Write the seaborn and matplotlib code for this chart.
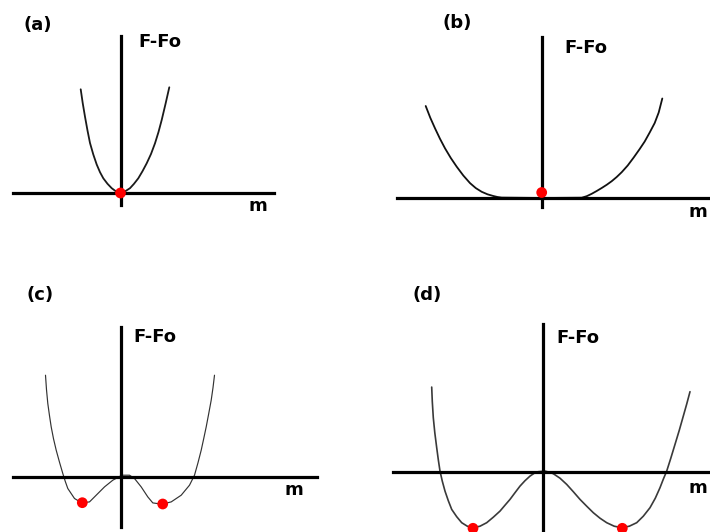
import matplotlib
matplotlib.use("Agg")
import matplotlib.pyplot as plt
import seaborn as sns

sns.set_style("white")
plt.rcParams["font.family"] = ["DejaVu Sans"]

# Free-energy curves F-Fo versus order parameter m (arbitrary units)
a_m = [-39.8, -37.8, -35.5, -33.0, -30.5, -27.2, -23.8, -20.5, -17.2, -13.0, -8.8, -4.5, 0.0,
       4.5, 9.5, 13.5, 17.8, 22.0, 26.2, 30.5, 34.5, 38.0, 41.2, 45.0, 48.8]
a_f = [103.7, 90.0, 76.3, 62.5, 50.0, 38.5, 28.5, 20.8, 14.7, 9.2, 4.8, 1.6, 0.3,
       1.6, 4.8, 9.2, 14.7, 21.8, 29.7, 39.0, 49.7, 61.0, 73.0, 89.0, 105.7]
a_min_m = [0.0]
a_min_f = [0.0]

b_m = [-116.0, -111.4, -106.7, -101.7, -96.7, -90.9, -85.0, -78.4, -71.7, -65.9, -60.0, -54.2,
       -48.4, -44.2, -40.0, 0.0,
       40.0, 45.0, 50.0, 55.0, 60.0, 65.0, 70.0, 75.0, 80.0, 86.0, 92.0, 98.0, 103.0, 108.0,
       113.0, 117.0, 120.6]
b_f = [92.0, 80.2, 69.7, 59.2, 49.7, 40.0, 31.3, 22.5, 14.9, 9.9, 6.2, 3.7,
       2.0, 1.0, 0.4, 0.0,
       0.3, 1.8, 4.2, 7.0, 10.0, 13.2, 16.8, 21.0, 25.8, 32.5, 40.5, 49.0, 56.5, 65.5,
       75.0, 85.5, 99.5]
b_min_m = [0.0]
b_min_f = [5.5]

c_m = [-75.5, -74.5, -73.2, -71.5, -69.8, -67.5, -64.8, -61.5, -58.2, -55.8, -53.2, -46.5,
       -39.2, -31.5, -24.8, -16.5, -8.2, -3.2, 0.8, 8.5, 13.5, 20.2, 26.8, 31.8, 40.8, 50.2,
       60.2, 68.5, 73.5, 77.0, 80.2, 82.7, 85.2, 87.7, 90.2, 92.0, 93.5]
c_f = [101.5, 87.0, 73.2, 61.0, 49.8, 38.0, 26.5, 14.5, 3.2, -4.5, -11.8, -21.8,
       -26.2, -25.2, -18.5, -10.2, -3.5, -0.8, 1.5, 1.5, -1.8, -10.2, -20.2, -26.2, -27.5, -25.2,
       -18.5, -8.5, 1.5, 14.0, 26.5, 38.0, 49.8, 63.0, 76.5, 89.0, 101.5]
c_min_m = [-38.7, 41.7]
c_min_f = [-26.0, -27.3]

d_m = [-111.6, -111.0, -110.0, -108.5, -106.6, -105.0, -103.3, -101.0, -98.3, -95.0, -91.6,
       -86.6, -81.6, -76.0, -70.0, -63.3, -56.6, -50.0, -43.3, -38.3, -33.3, -28.3, -23.3,
       -18.3, -13.3, -9.0, -5.0, 1.7, 6.0, 10.0, 16.7, 23.4, 30.0, 36.7, 43.4, 50.0, 56.7,
       63.4, 70.9, 78.4, 86.0, 93.4, 100.0, 106.7, 112.0, 116.7, 120.0, 123.4, 127.5, 131.7,
       136.0, 140.0, 143.5, 146.7]
d_f = [84.6, 70.0, 54.0, 39.0, 24.0, 12.0, 0.6, -9.5, -19.4, -29.0, -37.7,
       -45.0, -51.0, -54.5, -56.0, -54.5, -51.0, -45.5, -39.4, -33.5, -27.7, -21.0, -14.4,
       -9.0, -4.4, -1.5, 0.0, 0.6, -0.5, -2.0, -6.5, -12.7, -20.0, -27.7, -34.5, -41.0, -46.5,
       -51.0, -54.5, -56.0, -54.5, -51.0, -44.5, -36.0, -26.5, -16.0, -7.5, 0.6, 13.5, 27.3,
       41.5, 55.6, 68.0, 80.0]
d_min_m = [-70.3, 79.0]
d_min_f = [-56.6, -56.6]

tags = ["(a)", "(b)", "(c)", "(d)"]
y_label = "F-Fo"
x_label = "m"

W, H = 710, 532
fig = plt.figure(figsize=(W / 100, H / 100), dpi=100)

# Layout of each panel in figure pixels
panels = [
    dict(m=a_m, f=a_f, mm=a_min_m, mf=a_min_f, box=(0, 355, 0, 266), origin=(120.5, 193.0),
         hspan=(12.7, 274.0), vspan=(36.0, 204.5), lw=1.3, color="#1a1a1a",
         tag_xy=(24, 30), ylab_xy=(138, 47), xlab_xy=(249, 211)),
    dict(m=b_m, f=b_f, mm=b_min_m, mf=b_min_f, box=(355, 710, 0, 266), origin=(541.7, 198.0),
         hspan=(397.0, 712.0), vspan=(36.7, 206.7), lw=1.3, color="#111111",
         tag_xy=(443, 28), ylab_xy=(564, 53), xlab_xy=(689, 217)),
    dict(m=c_m, f=c_f, mm=c_min_m, mf=c_min_f, box=(0, 355, 266, 532), origin=(121.0, 476.7),
         hspan=(12.7, 317.3), vspan=(326.7, 527.3), lw=0.85, color="#333333",
         tag_xy=(27, 300), ylab_xy=(133, 342), xlab_xy=(285, 495)),
    dict(m=d_m, f=d_f, mm=d_min_m, mf=d_min_f, box=(355, 710, 266, 532), origin=(543.3, 471.7),
         hspan=(392.7, 712.0), vspan=(324.0, 534.0), lw=1.2, color="#3a3a3a",
         tag_xy=(412, 300), ylab_xy=(556, 343), xlab_xy=(689, 493)),
]

txt = dict(fontsize=13, fontweight="bold", color="black", va="baseline", ha="left")

for tag, p in zip(tags, panels):
    L, R, T, B = p["box"]
    x0, y0 = p["origin"]
    ax = fig.add_axes([L / W, 1 - B / H, (R - L) / W, (B - T) / H])
    ax.set_xlim(L - x0, R - x0)
    ax.set_ylim(y0 - B, y0 - T)
    ax.patch.set_alpha(0)

    sns.lineplot(x=p["m"], y=p["f"], ax=ax, color=p["color"], linewidth=p["lw"],
                 sort=False, estimator=None, zorder=2, clip_on=False,
                 solid_joinstyle="round", solid_capstyle="round")
    sns.scatterplot(x=p["mm"], y=p["mf"], ax=ax, color="#ff0000", s=60,
                    edgecolor="none", linewidth=0, zorder=4, clip_on=False, legend=False)

    # Axes drawn as crossing lines through the origin
    for side in ("top", "right"):
        ax.spines[side].set_visible(False)
    for side in ("left", "bottom"):
        sp = ax.spines[side]
        sp.set_position(("data", 0))
        sp.set_color("black")
        sp.set_linewidth(2.3)
        sp.set_zorder(3)
    ax.spines["left"].set_bounds(y0 - p["vspan"][1], y0 - p["vspan"][0])
    ax.spines["bottom"].set_bounds(p["hspan"][0] - x0, p["hspan"][1] - x0)
    ax.set_xticks([])
    ax.set_yticks([])
    ax.set_xlabel("")
    ax.set_ylabel("")

    for s, (px, py) in ((tag, p["tag_xy"]), (y_label, p["ylab_xy"]), (x_label, p["xlab_xy"])):
        fig.text(px / W, 1 - py / H, s, **txt)

fig.savefig("out.png", dpi=100)
